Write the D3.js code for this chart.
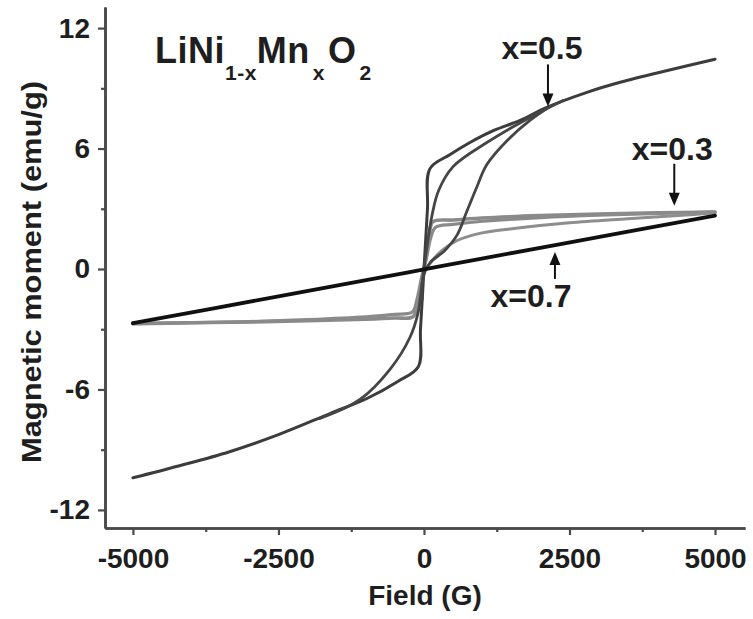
<!DOCTYPE html>
<html>
<head>
<meta charset="utf-8">
<script src="https://cdn.jsdelivr.net/npm/d3@7"></script>
<style>
  html, body { margin: 0; padding: 0; background: #fff; }
  svg { display: block; }
  text { font-family: "Liberation Sans", Arial, sans-serif; font-weight: bold; fill: #1e1e1e; }
</style>
</head>
<body>
<svg id="chart" width="753" height="619"></svg>
<script>
// ---------- data ----------
const fieldTicks = [-5000, -2500, 0, 2500, 5000];
const fieldMinorTicks = [-3750, -1250, 1250, 3750];
const momentTicks = [-12, -6, 0, 6, 12];
const momentMinorTicks = [-9, -3, 3, 9];

// x = 0.7 (black, nearly linear)
const h07 = [-5000, -2500, -900, 0, 900, 2300, 5000];
const m07 = [-2.70, -1.36, -0.50, -0.02, 0.47, 1.22, 2.66];

// x = 0.3 (light grey) descending branch
const h03a = [5000, 4000, 3000, 2000, 1000, 500, 150, 90, 30, -40, -110, -190, -500, -1000, -2000, -3000, -4000, -5000];
const m03a = [2.84, 2.80, 2.74, 2.66, 2.54, 2.44, 2.35, 1.6, 0.5, -0.6, -1.7, -2.38, -2.44, -2.50, -2.58, -2.64, -2.68, -2.72];
// x = 0.3 ascending branch
const h03b = [-5000, -3000, -2000, -1000, -500, -200, -120, -40, 40, 120, 200, 500, 1000, 2000, 3000, 5000];
const m03b = [-2.72, -2.62, -2.52, -2.38, -2.26, -2.14, -1.5, -0.4, 0.5, 1.6, 2.08, 2.22, 2.38, 2.56, 2.68, 2.84];
// x = 0.3 initial curve
const h03v = [40, 150, 300, 570, 1000, 1650, 2500, 3500, 4300, 5000];
const m03v = [0.0, 0.45, 0.9, 1.42, 1.8, 2.05, 2.3, 2.5, 2.65, 2.8];

// x = 0.5 (dark grey) outer curve
const h05o = [-5000, -4200, -3340, -2500, -1615, -980, -450, -98, -60, 0, 60, 103, 450, 790, 1200, 1650, 2110, 2800, 3370, 4200, 5000];
const m05o = [-10.4, -9.8, -9.1, -8.25, -7.2, -6.45, -5.6, -4.87, -3.0, 0.0, 3.0, 5.0, 5.7, 6.3, 6.9, 7.4, 8.05, 8.8, 9.3, 9.9, 10.45];
// x = 0.5 middle curve
const h05m = [-1800, -1100, -584, -240, -103, -40, 40, 140, 250, 500, 1080, 1820, 2400];
const m05m = [-7.45, -6.5, -5.0, -3.4, -2.2, -0.9, 0.9, 2.7, 3.9, 5.1, 6.3, 7.55, 8.4];
// x = 0.5 inner curve
const h05t = [-30, -20, 100, 350, 570, 740, 910, 1080, 1430, 1820, 2200];
const m05t = [-1.5, -0.5, 0.3, 0.9, 1.7, 2.9, 4.1, 5.2, 6.4, 7.4, 8.15];

const seriesLabels = ["x=0.5", "x=0.3", "x=0.7"];
// arrow tip positions (field, moment) for each label
const arrowField = [2130, 4300, 2250];
const arrowMoment = [8.1, 3.15, 0.85];

// ---------- drawing ----------
const svg = d3.select("#chart");
const x = d3.scaleLinear().domain([-5480, 5515]).range([105, 745]);
const y = d3.scaleLinear().domain([-12.9, 13.05]).range([528, 7]);

const axisColor = "#4a4a4a";

function zip(h, m) { return h.map((v, i) => [v, m[i]]); }
const line = d3.line().x(d => x(d[0])).y(d => y(d[1])).curve(d3.curveCatmullRom.alpha(0.5));

const curves = [
  {d: zip(h03a, m03a), c: "#8a8a8a", w: 3.6},
  {d: zip(h03b, m03b), c: "#8a8a8a", w: 3.2},
  {d: zip(h03v, m03v), c: "#8e8e8e", w: 3.0},
  {d: zip(h05o, m05o), c: "#3c3c3c", w: 3.0},
  {d: zip(h05m, m05m), c: "#454545", w: 2.8},
  {d: zip(h05t, m05t), c: "#454545", w: 2.8},
  {d: zip(h07, m07), c: "#101010", w: 3.8}
];
svg.append("g").selectAll("path").data(curves).join("path")
  .attr("d", d => line(d.d))
  .attr("fill", "none")
  .attr("stroke", d => d.c)
  .attr("stroke-width", d => d.w)
  .attr("stroke-linejoin", "round")
  .attr("stroke-linecap", "round");

// axes
const fmt = d => String(d);
const xAxisG = svg.append("g").attr("transform", `translate(0,${y(-12.9)})`)
  .call(d3.axisBottom(x).tickValues(fieldTicks).tickFormat(fmt).tickSize(7).tickPadding(13).tickSizeOuter(0));
const xMinorG = svg.append("g").attr("transform", `translate(0,${y(-12.9)})`)
  .call(d3.axisBottom(x).tickValues(fieldMinorTicks).tickSize(4).tickFormat("").tickSizeOuter(0));
const yAxisG = svg.append("g").attr("transform", `translate(${x(-5480)},0)`)
  .call(d3.axisLeft(y).tickValues(momentTicks).tickFormat(fmt).tickSize(7).tickPadding(8).tickSizeOuter(0));
const yMinorG = svg.append("g").attr("transform", `translate(${x(-5480)},0)`)
  .call(d3.axisLeft(y).tickValues(momentMinorTicks).tickSize(4).tickFormat("").tickSizeOuter(0));

[xAxisG, xMinorG, yAxisG, yMinorG].forEach(g => {
  g.select(".domain").attr("stroke", axisColor).attr("stroke-width", 2.6);
  g.selectAll(".tick line").attr("stroke", axisColor).attr("stroke-width", 2.2);
  g.selectAll(".tick text").attr("font-size", 28).attr("font-family", "Liberation Sans, Arial, sans-serif")
    .attr("font-weight", "bold").attr("fill", "#1e1e1e");
});

// axis titles
svg.append("text").attr("x", 425).attr("y", 605).attr("text-anchor", "middle")
  .attr("font-size", 28).text("Field (G)");
svg.append("text")
  .attr("transform", "translate(41,272) rotate(-90)")
  .attr("text-anchor", "middle").attr("font-size", 28)
  .attr("textLength", 382).attr("lengthAdjust", "spacingAndGlyphs")
  .text("Magnetic moment (emu/g)");

// formula label
const f = svg.append("text").attr("x", 155).attr("y", 63).attr("font-size", 36)
  .attr("letter-spacing", 0.5);
f.append("tspan").text("LiNi");
f.append("tspan").attr("font-size", 21).attr("dy", 17).text("1-x");
f.append("tspan").attr("dy", -17).text("Mn");
f.append("tspan").attr("font-size", 21).attr("dy", 17).attr("dx", 3).text("x");
f.append("tspan").attr("dy", -17).attr("dx", 3).text("O");
f.append("tspan").attr("font-size", 21).attr("dy", 17).attr("dx", 3).text("2");

// annotations with arrows
const annot = [
  {label: seriesLabels[0], tx: x(arrowField[0]), ty: y(arrowMoment[0]), dir: -1, lx: -6, ly: -47},
  {label: seriesLabels[1], tx: x(arrowField[1]), ty: y(arrowMoment[1]), dir: -1, lx: -2, ly: -46},
  {label: seriesLabels[2], tx: x(arrowField[2]), ty: y(arrowMoment[2]), dir: 1, lx: -24, ly: 55}
];
const ag = svg.append("g");
annot.forEach(a => {
  const len = a.dir < 0 ? 42 : 27;
  const y0 = a.ty + a.dir * len;
  ag.append("line").attr("x1", a.tx).attr("x2", a.tx).attr("y1", y0).attr("y2", a.ty + a.dir * 10)
    .attr("stroke", "#111").attr("stroke-width", 2);
  ag.append("path")
    .attr("d", `M${a.tx},${a.ty} L${a.tx - 5.5},${a.ty + a.dir * 13} L${a.tx + 5.5},${a.ty + a.dir * 13} Z`)
    .attr("fill", "#111");
  ag.append("text").attr("x", a.tx + a.lx).attr("y", a.ty + a.ly)
    .attr("text-anchor", "middle").attr("font-size", 32).text(a.label);
});
</script>
</body>
</html>
